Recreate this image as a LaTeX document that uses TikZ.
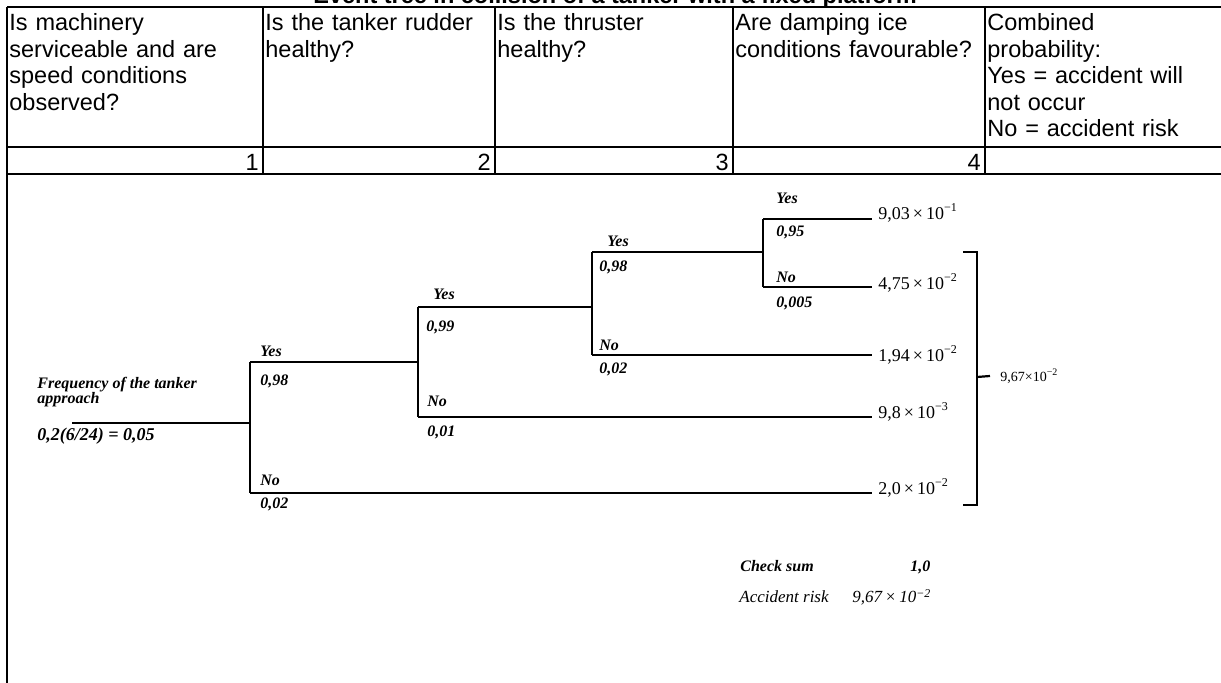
\documentclass[tikz,border=0pt]{standalone}
\usepackage{fontspec}
\setmainfont{Liberation Serif}
\setsansfont{Liberation Sans}
\usetikzlibrary{positioning, calc}
\tikzset{
  gridline/.style={line width=1pt},
  hdrcell/.style={
    font=\sffamily\fontsize{11.75}{13.25}\selectfont, align=left,
    anchor=base west, inner sep=0pt, text width=118pt
  },
  numcell/.style={
    font=\sffamily\fontsize{11.75}{13.25}\selectfont,
    anchor=base east, inner sep=0pt
  },
  titletext/.style={
    font=\sffamily\bfseries\fontsize{11.75}{13.25}\selectfont,
    anchor=base, inner sep=0pt
  },
  branchline/.style={line width=1.1pt},
  branchlabel/.style={
    font=\bfseries\itshape\fontsize{8}{7.5}\selectfont,
    anchor=base west, inner sep=0pt, align=left
  },
  outcomelabel/.style={
    font=\fontsize{9}{10}\selectfont, anchor=west, inner sep=0pt
  },
  sumlabel/.style={
    font=\fontsize{7}{8}\selectfont, anchor=west, inner sep=0pt
  },
}

\begin{document}
\begin{tikzpicture}[x=0.5pt, y=-0.5pt]
  \useasboundingbox (0,0) rectangle (1221,683);

  % ── Title (cut off at the top) ──
  \node[titletext] (title) at (615,4)
    {Event tree in collision of a tanker with a fixed platform};

  % ── Table grid ──
  \draw[gridline] (7,7) -- (1221,7);
  \draw[gridline] (7,147) -- (1221,147);
  \draw[gridline] (7,174) -- (1221,174);
  \draw[gridline] (7,7) -- (7,683);
  \draw[gridline] (263,7) -- (263,174);
  \draw[gridline] (495,7) -- (495,174);
  \draw[gridline] (733,7) -- (733,174);
  \draw[gridline] (985,7) -- (985,174);

  % ── Header texts ──
  \node[hdrcell] (hdr1) at (9,31)
    {Is machinery\\serviceable and are\\speed conditions\\observed?};
  \node[hdrcell] (hdr2) at (265,31) {Is the tanker rudder\\healthy?};
  \node[hdrcell] (hdr3) at (497,31) {Is the thruster\\healthy?};
  \node[hdrcell, text width=125pt] (hdr4) at (735,31)
    {Are damping ice\\conditions favourable?};
  \node[hdrcell] (hdr5) at (987,31)
    {Combined\\probability:\\Yes = accident will\\not occur\\No = accident risk};

  \node[numcell] (num1) at (259,171) {1};
  \node[numcell] (num2) at (491,171) {2};
  \node[numcell] (num3) at (729,171) {3};
  \node[numcell] (num4) at (981,171) {4};

  % ── Event tree: branch points ──
  \coordinate (start) at (72,423);
  \coordinate (n1)  at (250,423);
  \coordinate (n1y) at (250,362);
  \coordinate (n1n) at (250,493);
  \coordinate (n2)  at (418,362);
  \coordinate (n2y) at (418,307);
  \coordinate (n2n) at (418,417);
  \coordinate (n3)  at (592,307);
  \coordinate (n3y) at (592,252);
  \coordinate (n3n) at (592,355);
  \coordinate (n4)  at (763,252);
  \coordinate (n4y) at (763,219);
  \coordinate (n4n) at (763,287);
  \coordinate (e1) at (872,219);
  \coordinate (e2) at (872,287);
  \coordinate (e3) at (872,355);
  \coordinate (e4) at (872,417);
  \coordinate (e5) at (872,493);

  \draw[branchline] (start) -- (n1);
  \draw[branchline] (n1y) -- (n1n);
  \draw[branchline] (n1y) -- (n2);
  \draw[branchline] (n1n) -- (e5);
  \draw[branchline] (n2y) -- (n2n);
  \draw[branchline] (n2y) -- (n3);
  \draw[branchline] (n2n) -- (e4);
  \draw[branchline] (n3y) -- (n3n);
  \draw[branchline] (n3y) -- (n4);
  \draw[branchline] (n3n) -- (e3);
  \draw[branchline] (n4y) -- (n4n);
  \draw[branchline] (n4y) -- (e1);
  \draw[branchline] (n4n) -- (e2);

  % ── Branch labels ──
  \node[branchlabel] (freq) at (37,404)
    {Frequency of the tanker\\approach};
  \node[branchlabel, font=\bfseries\itshape\fontsize{9}{9}\selectfont]
    (freqval) at (37,441) {0,2(6/24) = 0,05};

  \node[branchlabel] (y1) at (260,357) {Yes};
  \node[branchlabel] (py1) at (260,386) {0,98};
  \node[branchlabel] (no1) at (260,486) {No};
  \node[branchlabel] (pn1) at (260,509) {0,02};

  \node[branchlabel] (y2) at (433,300) {Yes};
  \node[branchlabel] (py2) at (426,332) {0,99};
  \node[branchlabel] (no2) at (427,407) {No};
  \node[branchlabel] (pn2) at (427,437) {0,01};

  \node[branchlabel] (y3) at (607,247) {Yes};
  \node[branchlabel] (py3) at (599,272) {0,98};
  \node[branchlabel] (no3) at (599,351) {No};
  \node[branchlabel] (pn3) at (599,374) {0,02};

  \node[branchlabel] (y4) at (776,204) {Yes};
  \node[branchlabel] (py4) at (776,237) {0,95};
  \node[branchlabel] (no4) at (776,283) {No};
  \node[branchlabel] (pn4) at (776,308) {0,005};

  % ── Outcomes ──
  \node[outcomelabel] (out1) at (878,213) {9,03\,×\,10\textsuperscript{−1}};
  \node[outcomelabel] (out2) at (878,283) {4,75\,×\,10\textsuperscript{−2}};
  \node[outcomelabel] (out3) at (878,355) {1,94\,×\,10\textsuperscript{−2}};
  \node[outcomelabel] (out4) at (878,412) {9,8\,×\,10\textsuperscript{−3}};
  \node[outcomelabel] (out5) at (878,488) {2,0\,×\,10\textsuperscript{−2}};

  % ── Bracket and sum ──
  \coordinate (bt) at (977,252);
  \coordinate (bb) at (977,505);
  \coordinate (bm) at (977,377);
  \draw[branchline] (963,252) -- (bt) -- (bb) -- (963,505);
  \node[sumlabel] (sumval) at (1000,376) {9,67×10\textsuperscript{−2}};
  \draw[branchline] (bm) -- (sumval.west -| 990,0);

  % ── Check sum ──
  \node[branchlabel] (chk) at (740,572) {Check sum};
  \node[branchlabel] (chkval) at (910,572) {1,0};
  \node[branchlabel, font=\itshape\fontsize{8.5}{9}\selectfont] (risk) at (739,603)
    {Accident risk};
  \node[branchlabel, font=\itshape\fontsize{8.5}{9}\selectfont] (riskval) at (852,603)
    {9,67\,×\,10\textsuperscript{−2}};
\end{tikzpicture}
\end{document}
